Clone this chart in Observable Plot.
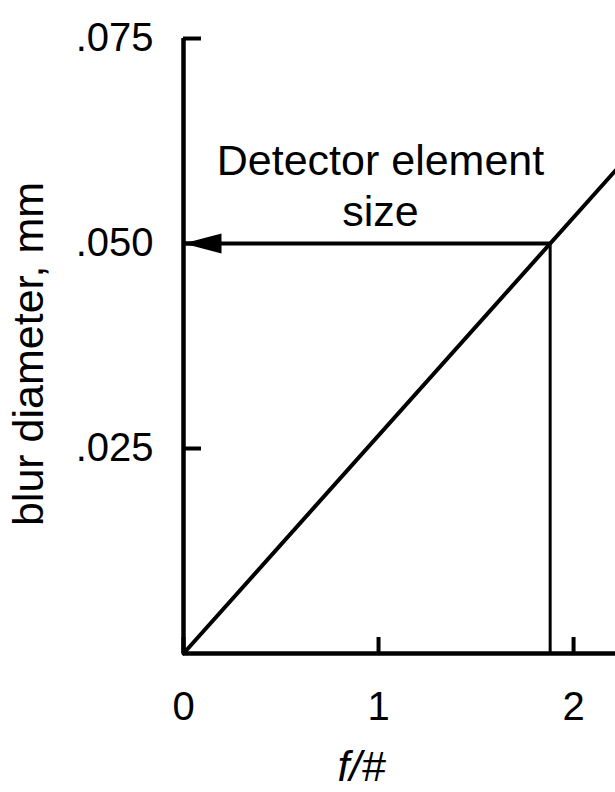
<!DOCTYPE html>
<html><head><meta charset="utf-8">
<script src="https://cdn.jsdelivr.net/npm/d3@7"></script>
<script src="https://cdn.jsdelivr.net/npm/@observablehq/plot@0.6"></script>
<style>body{margin:0;background:#fff;} #chart svg{display:block;}</style>
</head><body><div id="chart"></div>
<script>
const fNumber = [0, 2.215];
const blurDiameter = [0, 0.0589];
const detectorF = [1.88];
const detectorSize = [0.05];
const xTicks = [0, 1, 2];
const xTickLabels = ["0", "1", "2"];
const yTicks = [0.025, 0.05, 0.075];
const yTickLabels = [".025", ".050", ".075"];
const annotation = ["Detector element\nsize"];
const annotationF = [1.01];
const annotationBlur = [0.0572];
const xLabel = "f/#";
const yLabel = "blur diameter, mm";

const curve = fNumber.map((f, i) => ({f, b: blurDiameter[i]}));
const marker = detectorF.map((f, i) => ({f, b: detectorSize[i]}));
const font = "'Liberation Sans', Arial, Helvetica, sans-serif";

const plot = Plot.plot({
  width: 615, height: 792,
  marginLeft: 183, marginRight: 0, marginTop: 38, marginBottom: 139,
  style: {fontFamily: font, background: "white", color: "black"},
  x: {domain: [0, 2.215]},
  y: {domain: [0, 0.075]},
  marks: [
    Plot.axisX(xTicks, {tickSize: -16, tickPadding: 54, fontSize: 40, strokeWidth: 4, label: null,
      tickFormat: d => xTickLabels[xTicks.indexOf(d)]}),
    Plot.axisY(yTicks, {tickSize: -18, tickPadding: 48, fontSize: 40, strokeWidth: 4, label: null,
      tickFormat: d => yTickLabels[yTicks.indexOf(d)]}),
    Plot.ruleX([0], {strokeWidth: 4.5}),
    Plot.ruleY([0], {strokeWidth: 4.5}),
    Plot.line(curve, {x: "f", y: "b", strokeWidth: 4}),
    Plot.ruleX(marker, {x: "f", y1: 0, y2: "b", strokeWidth: 3}),
    Plot.ruleY(marker, {y: "b", x1: 0, x2: "f", strokeWidth: 4}),
    Plot.vector(marker, {x: 0, y: "b", length: 38, r: 10, rotate: -90, anchor: "end", shape: "spike", fill: "black", stroke: "none"}),
    Plot.text(annotation, {x: annotationF, y: annotationBlur, text: d => d, fontSize: 43, lineHeight: 1.19}),
    Plot.text([yLabel], {frameAnchor: "left", textAnchor: "middle", rotate: -90, dx: -154, dy: 8, fontSize: 43, text: d => d}),
    Plot.text([xLabel], {frameAnchor: "bottom", dx: -38, dy: 127, fontSize: 43, fontStyle: "italic", text: d => d})
  ]
});
document.getElementById("chart").appendChild(plot);
</script>
</body></html>
